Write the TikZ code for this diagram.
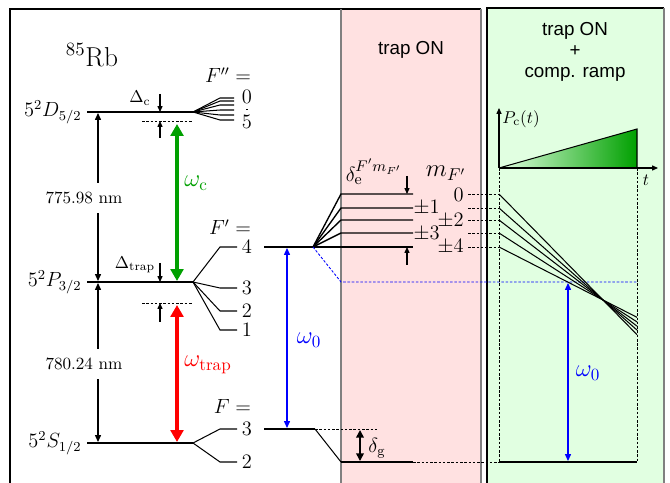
\documentclass[tikz,border=0pt]{standalone}
\usepackage{fontspec}
\setsansfont{Liberation Sans}
\usetikzlibrary{arrows.meta}
\definecolor{trapred}{RGB}{255,225,225}
\definecolor{rampgreen}{RGB}{225,255,225}
\definecolor{cgreen}{RGB}{0,160,0}
\begin{document}
\begin{tikzpicture}[x=0.585pt,y=-0.585pt,
	lvl/.style={line width=1pt},
	fan/.style={line width=0.6pt},
	dotline/.style={dash pattern=on 1.5pt off 1pt,line width=0.5pt},
	bigarr/.style={line width=1.8pt,{Triangle[length=7pt,width=7.5pt]}-{Triangle[length=7pt,width=7.5pt]}},
	tarr/.style={line width=0.6pt,{Triangle[length=4pt,width=3.5pt]}-{Triangle[length=4pt,width=3.5pt]}},
	smallarr/.style={line width=0.6pt,-{Triangle[length=3.5pt,width=3pt]}},
	title/.style={font=\fontsize{11}{12.5}\selectfont\sffamily,align=center}]
	\useasboundingbox (0,0) rectangle (670,483);
	\clip (0,0) rectangle (670,483);
	% panels
	\fill[trapred] (341,9) rectangle (481,490);
	\fill[rampgreen] (487,8) rectangle (664,490);
	\draw[line width=0.6pt] (10,490)--(10,9)--(481,9);
	\draw[gray,line width=0.6pt] (341,9)--(341,490) (481,9)--(481,490);
	\draw[line width=0.6pt] (487,490)--(487,8)--(664,8);
	\draw[gray,line width=0.6pt] (664,8)--(664,490);
	\node[title] (ttrap) at (411,50) {trap ON};
	\node[title] (tramp) at (575,52) {trap ON\\+\\comp. ramp};
	\node[font=\fontsize{16}{18}\selectfont] (rb) at (92,55) {$^{85}$Rb};
	% fine structure levels
	\foreach \n/\y/\t in {D/112/5^2D_{5/2},P/282/5^2P_{3/2},S/443/5^2S_{1/2}}{
		\draw[lvl] (87,\y) coordinate (\n l) -- (193,\y) coordinate (\n r);
		\node[anchor=east,inner sep=3pt,font=\large] (\n lab) at (\n l) {$\t$};
	}
	\foreach \y in {98,101,105,110,115,120} \draw[fan] (Dr)--(220,\y)--(234,\y);
	\node[font=\large] (f0) at (247,97) {$0$};
	\node[font=\large] (f5) at (247,122) {$5$};
	\draw[dotted,line width=0.6pt] (f0.south)--(f5.north);
	\foreach \y/\f in {247/4,288/3,311/2,330/1}{
		\draw[fan] (Pr)--(220,\y) coordinate (p\f)--(237,\y);
		\node[font=\large] (fp\f) at (247,\y) {$\f$};
	}
	\foreach \y/\f in {429/3,462/2}{
		\draw[fan] (Sr)--(220,\y)--(237,\y);
		\node[font=\large] (fs\f) at (247,\y) {$\f$};
	}
	\node[anchor=east,font=\large] (fpp) at (257,75) {$F''=$};
	\node[anchor=east,font=\large] (fpr) at (257,227) {$F'=$};
	\node[anchor=east,font=\large] (fgr) at (257,406) {$F=$};
	% detunings
	\node (dc) at (140,98) {$\Delta_{\rm c}$};
	\draw[smallarr] (160,94)--(160,112);
	\draw[dotline] (142,121) coordinate (dcl)--(192,121) coordinate (dcr);
	\draw[smallarr] (160,138)--(160,121);
	\node (dt) at (135,265) {$\Delta_{\rm trap}$};
	\draw[smallarr] (160,263)--(160,282);
	\draw[dotline] (142,303) coordinate (dtl)--(192,303) coordinate (dtr);
	\draw[smallarr] (160,322)--(160,303);
	% lasers
	\draw[bigarr,cgreen] (177,124)--(177,281);
	\node[cgreen,font=\Large] (wc) at (196,183) {$\omega_{\rm c}$};
	\draw[bigarr,red] (177,305)--(177,442);
	\node[red,font=\Large] (wt) at (208,365) {$\omega_{\rm trap}$};
	\draw[tarr] (98,113)--(98,281);
	\draw[tarr] (98,283)--(98,442);
	\node[fill=white,inner xsep=0pt,inner ysep=5pt] (l1) at (84,198) {775.98 nm};
	\node[fill=white,inner xsep=0pt,inner ysep=5pt] (l2) at (84,364) {780.24 nm};
	% trap ON
	\draw[lvl] (264,247)--(313,247) coordinate (e4);
	\foreach \y in {194,208,220,233,247}{
		\draw[fan,line width=0.8pt] (e4)--(341,\y)--(413,\y);
		\draw[dotline] (468,\y)--(499,\y);
	}
	\foreach \y/\m/\xe in {195/0/464,208/\pm1/440,221/\pm2/464,234/\pm3/440,247/\pm4/464}
		\node[anchor=east,inner sep=0pt,font=\fontsize{11.5}{13}\selectfont] (m\xe\y) at (\xe,\y) {$\m$};
	\node[font=\Large] (mf) at (446,173) {$m_{F'}$};
	\node[font=\fontsize{13}{15}\selectfont] (de) at (374,172) {$\delta_{\rm e}^{F' m_{F'}}$};
	\draw[smallarr] (407,176)--(407,194);
	\draw[smallarr] (407,265)--(407,247);
	\draw[blue,dotline] (e4)--(341,282)--(637,282);
	\draw[tarr,blue] (287,248)--(287,428);
	\node[blue,font=\Large] (w0a) at (309,340) {$\omega_0$};
	\draw[lvl] (264,429)--(315,429) coordinate (g3);
	\draw[fan] (g3)--(341,462);
	\draw[lvl] (341,462)--(413,462);
	\draw[dotline] (413,462)--(499,462) (g3)--(377,429);
	\draw[line width=0.9pt,{Triangle[length=4.5pt,width=4.5pt]}-{Triangle[length=4.5pt,width=4.5pt]}] (360,430)--(360,461);
	\node[font=\large] (dg) at (377,448) {$\delta_{\rm g}$};
	% compensation ramp
	\shade[left color=rampgreen,right color=cgreen] (499,168)--(637,129)--(637,168)--cycle;
	\draw[fan] (499,168)--(637,129)--(637,168);
	\draw[smallarr] (499,168) coordinate (o)--(499,108);
	\draw[smallarr] (o)--(658,168);
	\node (pc) at (521,119) {$P_{\rm c}(t)$};
	\node (tt) at (646,180) {$t$};
	\draw[dotline] (o)--(499,462) (637,168)--(637,462);
	\foreach \y in {194,208,220,233,247}{
		\pgfmathsetmacro\ye{\y+(300-\y)*138/104}
		\draw[fan] (499,\y)--(637,\ye);
	}
	\draw[lvl] (499,462)--(637,462);
	\draw[tarr,blue] (568,283)--(568,461);
	\node[blue,font=\Large] (w0b) at (588,373) {$\omega_0$};
\end{tikzpicture}
\end{document}
